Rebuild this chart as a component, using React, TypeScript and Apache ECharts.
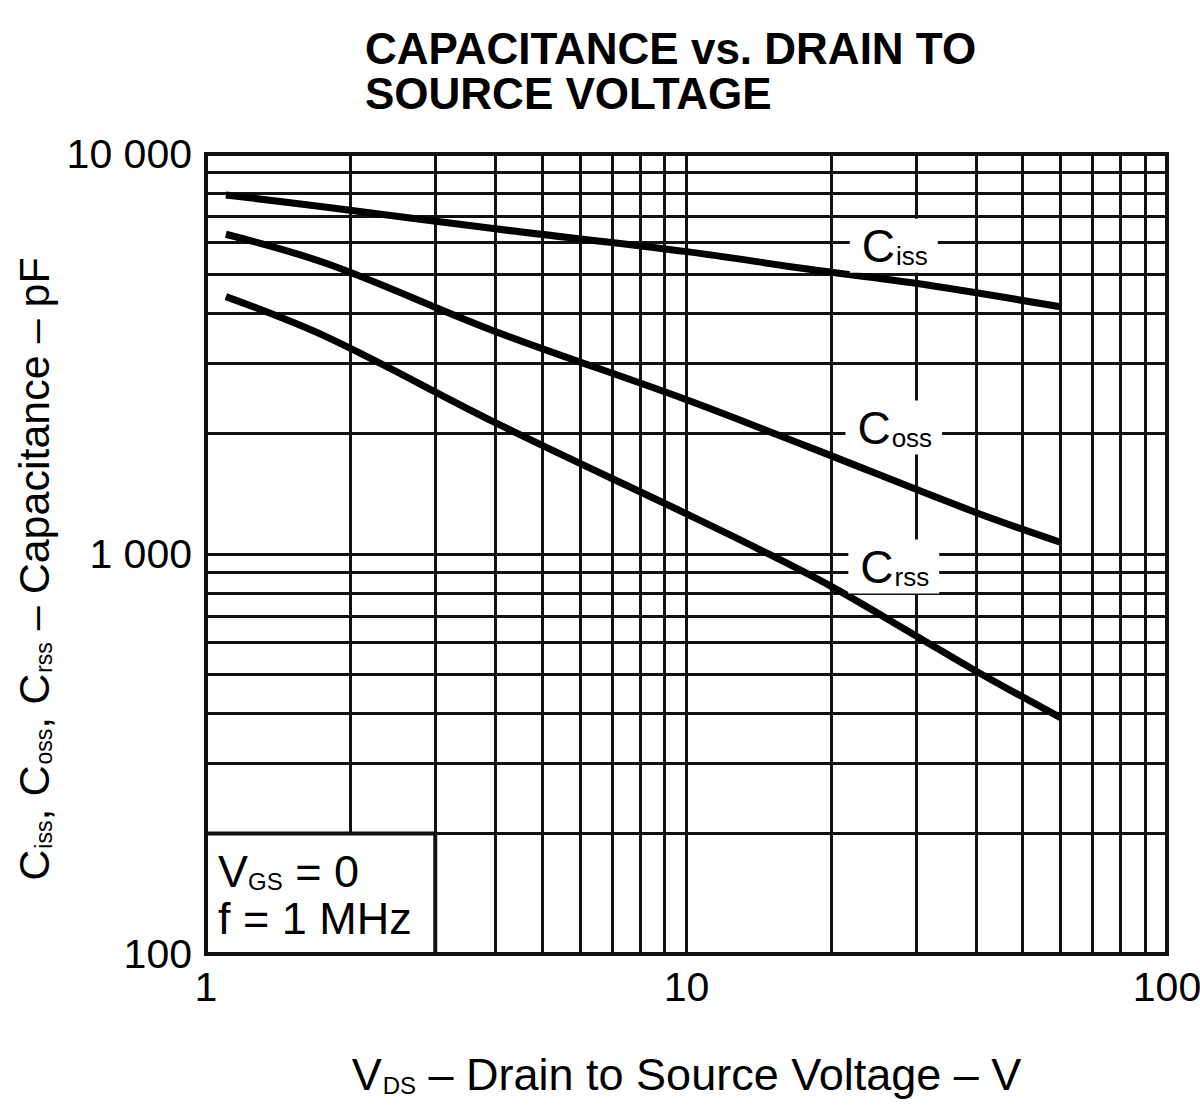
import React, { useEffect, useRef } from "react";
import * as echarts from "echarts";

const FONT = "'Liberation Sans', Arial, Helvetica, sans-serif";

// Title
const titleText = "CAPACITANCE vs. DRAIN TO\nSOURCE VOLTAGE";

// Curves: V_DS (V) and capacitance (pF)
const cissV = [1.1, 1.8, 4, 10, 18, 30, 60];
const cissC = [7900, 7350, 6500, 5700, 5150, 4750, 4150];
const cossV = [1.1, 1.8, 4, 10, 18, 40, 60];
const cossC = [6300, 5300, 3600, 2430, 1850, 1270, 1070];
const crssV = [1.1, 1.8, 4, 10, 14, 20, 30, 40, 60];
const crssC = [4400, 3470, 2130, 1260, 1035, 830, 625, 510, 390];

// Grid lines of the log-log paper
const xMinorGrid = [2, 3, 4, 5, 6, 7, 8, 9, 20, 30, 40, 50, 60, 70, 80, 90];
const yMinorGrid = [200, 300, 400, 500, 600, 700, 800, 900, 2000, 3000, 4000, 5000, 6000, 7000, 8000, 9000];

// Tick labels
const xTickLabels: Record<number, string> = { 1: "1", 10: "10", 100: "100" };
const yTickLabels: Record<number, string> = { 100: "100", 1000: "1 000", 10000: "10 000" };

// Curve name tags (subscripts) and where they sit
const curveTags = [
  { sub: "iss", coord: [27, 5900] },
  { sub: "oss", coord: [27, 2070] },
  { sub: "rss", coord: [27, 930] },
];

// Conditions box: spans V 1..3, C 100..200
const conditionBoxTopLeft = [1, 200];
const conditionBoxBottomRight = [3, 100];
const conditionLines = ["{v|V}{s|GS}{v| = 0}", "{v|f = 1 MHz}"];

const INK = "#111";

export default function App() {
  const ref = useRef<HTMLDivElement>(null);

  useEffect(() => {
    if (!ref.current) return;
    const chart = echarts.init(ref.current, undefined, { renderer: "svg" });

    const sub = { fontFamily: FONT, color: "#000", verticalAlign: "bottom" as const, padding: [0, 0, 0, 1] };

    const option: any = {
      animation: false,
      backgroundColor: "#fff",
      title: {
        text: titleText,
        left: 360,
        top: 21,
        textStyle: { fontFamily: FONT, fontSize: 44, fontWeight: "bold", lineHeight: 45, color: "#000" },
      },
      grid: {
        left: 206,
        top: 154,
        width: 961,
        height: 800,
        show: true,
        borderColor: INK,
        borderWidth: 4,
        backgroundColor: "transparent",
        containLabel: false,
        outerBoundsMode: "none",
      },
      xAxis: {
        type: "log",
        logBase: 10,
        min: 1,
        max: 100,
        axisLine: { show: false },
        axisTick: { show: false },
        splitLine: { show: true, lineStyle: { color: INK, width: 3 } },
        axisLabel: {
          margin: 12,
          fontFamily: FONT,
          fontSize: 41,
          color: "#000",
          formatter: (v: number) => xTickLabels[Math.round(v)] ?? "",
        },
        name: "{v|V}{s|DS}{v| – Drain to Source Voltage – V}",
        nameLocation: "middle",
        nameGap: 98,
        nameTextStyle: {
          rich: {
            v: { fontFamily: FONT, fontSize: 45, color: "#000" },
            s: { ...sub, fontSize: 24 },
          },
        },
      },
      yAxis: {
        type: "log",
        logBase: 10,
        min: 100,
        max: 10000,
        axisLine: { show: false },
        axisTick: { show: false },
        splitLine: { show: true, lineStyle: { color: INK, width: 3 } },
        axisLabel: {
          margin: 14,
          fontFamily: FONT,
          fontSize: 41,
          color: "#000",
          formatter: (v: number) => yTickLabels[Math.round(v)] ?? "",
        },
        name: "{v|C}{s|iss}{v|, C}{s|oss}{v|, C}{s|rss}{v| – Capacitance – pF}",
        nameLocation: "middle",
        nameRotate: 90,
        nameGap: 150,
        nameTextStyle: {
          padding: [0, 30, 0, 0],
          rich: {
            v: { fontFamily: FONT, fontSize: 43, color: "#000" },
            s: { ...sub, fontSize: 23 },
          },
        },
      },
      series: [
        {
          type: "line",
          data: [],
          silent: true,
          markLine: {
            silent: true,
            z: 2,
            symbol: ["none", "none"],
            label: { show: false },
            lineStyle: { color: INK, width: 3, type: "solid" },
            data: [
              ...xMinorGrid.map((v) => ({ xAxis: v })),
              ...yMinorGrid.map((v) => ({ yAxis: v })),
            ],
          },
        },
        ...[
          { v: cissV, c: cissC },
          { v: cossV, c: cossC },
          { v: crssV, c: crssC },
        ].map((s) => ({
          type: "line",
          z: 4,
          silent: true,
          showSymbol: false,
          smooth: 0.35,
          lineStyle: { color: "#000", width: 7, cap: "butt" },
          data: s.v.map((v, i) => [v, s.c[i]]),
        })),
        {
          type: "line",
          data: [],
          silent: true,
          markPoint: {
            silent: true,
            z: 6,
            symbol: "rect",
            symbolSize: 1,
            itemStyle: { color: "rgba(0,0,0,0)" },
            label: {
              show: true,
              position: "inside",
              backgroundColor: "#fff",
              padding: [4, 10, 4, 12],
              rich: {
                c: { fontFamily: FONT, fontSize: 46, color: "#000" },
                s: { ...sub, fontSize: 26 },
              },
            },
            data: curveTags.map((t) => ({
              coord: t.coord,
              label: { formatter: `{c|C}{s|${t.sub}}` },
            })),
          },
        },
      ],
    };

    chart.setOption(option);

    const p1 = chart.convertToPixel({ xAxisIndex: 0, yAxisIndex: 0 }, conditionBoxTopLeft) as number[];
    const p2 = chart.convertToPixel({ xAxisIndex: 0, yAxisIndex: 0 }, conditionBoxBottomRight) as number[];
    const richInset = {
      v: { fontFamily: FONT, fontSize: 45, fill: "#000", lineHeight: 45 },
      s: { fontFamily: FONT, fontSize: 24, fill: "#000", lineHeight: 45, verticalAlign: "bottom" },
    };
    chart.setOption({
      graphic: [
        {
          type: "rect",
          z: 5,
          silent: true,
          shape: { x: p1[0], y: p1[1], width: p2[0] - p1[0], height: p2[1] - p1[1] },
          style: { fill: "#fff", stroke: INK, lineWidth: 4 },
        },
        ...conditionLines.map((t, i) => ({
          type: "text",
          z: 6,
          silent: true,
          x: p1[0] + 12,
          y: p1[1] + 15 + i * 47,
          style: { text: t, fill: "#000", rich: richInset },
        })),
      ],
    });

    return () => chart.dispose();
  }, []);

  return (
    <div
      ref={ref}
      style={{ position: "absolute", left: 0, top: 0, width: 1200, height: 1108, background: "#fff" }}
    />
  );
}
